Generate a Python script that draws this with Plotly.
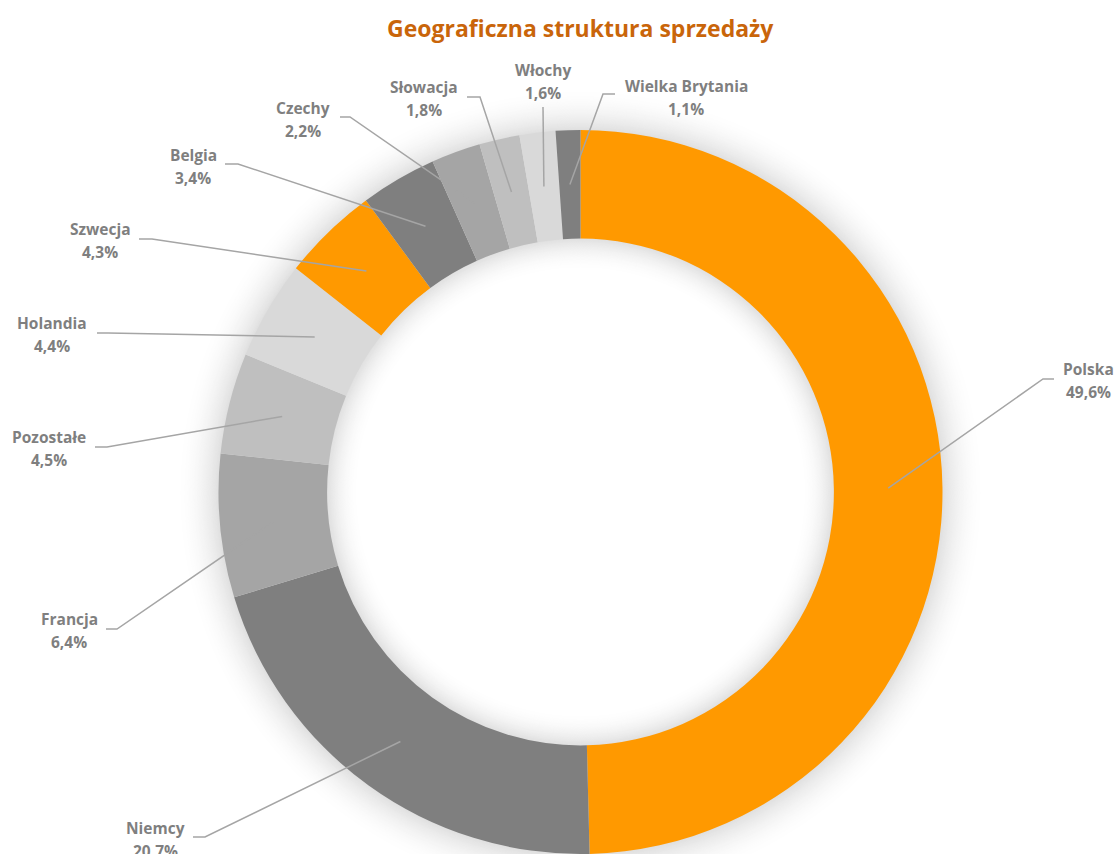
import math
import plotly.graph_objects as go

# ---------------- data ----------------
countries = ["Polska", "Niemcy", "Francja", "Pozostałe", "Holandia", "Szwecja",
             "Belgia", "Czechy", "Słowacja", "Włochy", "Wielka Brytania"]
shares = [49.6, 20.7, 6.4, 4.5, 4.4, 4.3, 3.4, 2.2, 1.8, 1.6, 1.1]
pct_labels = ["49,6%", "20,7%", "6,4%", "4,5%", "4,4%", "4,3%",
              "3,4%", "2,2%", "1,8%", "1,6%", "1,1%"]
title_text = "Geograficzna struktura sprzedaży"

# ---------------- style / layout ----------------
W, H = 1115, 854
CX, CY, R_OUT = 580.5, 492.0, 362.0
HOLE = 0.70
R_IN = R_OUT * HOLE
R_LINE = (R_OUT + R_IN) / 2

slice_colors = ["#FF9900", "#7F7F7F", "#A5A5A5", "#BFBFBF", "#D9D9D9", "#FF9900",
                "#7F7F7F", "#A5A5A5", "#BFBFBF", "#D9D9D9", "#7F7F7F"]
label_color = "#7F7F7F"
line_color = "#A5A5A5"
title_color = "#C9650A"
FONT = "Open Sans"
LABEL_SIZE = 15.5
TITLE_SIZE = 23

# label text centres (x, y of name line) and leader-line label-side points
label_pos = [(1088, 369), (155, 828), (69, 619), (49, 437), (52, 323), (100, 229),
             (193, 155), (303, 108), (424, 87), (543, 70), (686, 86)]
line_end = [(1054, 379), (193, 837), (106, 629), (95, 447), (97, 333), (139, 239),
            (225, 164), (340, 117), (467, 97), (543, 107), (615, 94)]
line_elbow = [(1043, 379), (205, 837), (117, 629), (107, 447), (108, 333), (152, 239),
              (238, 164), (350, 117), (480, 97), (543, 107), (603, 94)]
PCT_DY = 23

fig = go.Figure()

fig.add_trace(go.Pie(
    labels=countries,
    values=shares,
    sort=False,
    direction="clockwise",
    rotation=0,
    hole=HOLE,
    textinfo="none",
    marker=dict(colors=slice_colors, line=dict(width=0)),
    showlegend=False,
    domain=dict(x=[(CX - R_OUT) / W, (CX + R_OUT) / W],
                y=[(H - CY - R_OUT) / H, (H - CY + R_OUT) / H]),
))

shapes = []
# soft outer shadow
N_OUT = 44
for k in range(N_OUT, 0, -1):
    t = 1 - k / N_OUT
    g = int(round(255 - 32 * t ** 2))
    r = R_OUT + k
    shapes.append(dict(type="circle", xref="x", yref="y", layer="below",
                       x0=CX - r, x1=CX + r, y0=CY - r, y1=CY + r,
                       fillcolor=f"rgb({g},{g},{g})", line=dict(width=0)))
# soft inner shadow inside the hole
N_IN = 34
for k in range(0, N_IN + 1):
    t = 1 - k / N_IN
    g = int(round(255 - 32 * t ** 2))
    r = R_IN - k + 1
    shapes.append(dict(type="circle", xref="x", yref="y", layer="below",
                       x0=CX - r, x1=CX + r, y0=CY - r, y1=CY + r,
                       fillcolor=f"rgb({g},{g},{g})", line=dict(width=0)))

# leader lines from slice mid-angles
total = sum(shares)
cum = 0.0
annotations = []
for i, v in enumerate(shares):
    mid = (cum + v / 2) / total * 2 * math.pi
    cum += v
    px = CX + R_LINE * math.sin(mid)
    py = CY - R_LINE * math.cos(mid)
    ex, ey = line_end[i]
    bx, by = line_elbow[i]
    shapes.append(dict(type="path", xref="x", yref="y", layer="above",
                       path=f"M {ex},{ey} L {bx},{by} L {px:.1f},{py:.1f}",
                       line=dict(color=line_color, width=1.5)))
    lx, ly = label_pos[i]
    annotations.append(dict(x=lx, y=ly, xref="x", yref="y", text=f"<b>{countries[i]}</b>",
                            showarrow=False, xanchor="center", yanchor="middle",
                            font=dict(family=FONT, size=LABEL_SIZE, color=label_color)))
    annotations.append(dict(x=lx, y=ly + PCT_DY, xref="x", yref="y", text=f"<b>{pct_labels[i]}</b>",
                            showarrow=False, xanchor="center", yanchor="middle",
                            font=dict(family=FONT, size=LABEL_SIZE, color=label_color)))

annotations.append(dict(x=580, y=28, xref="x", yref="y", text=f"<b>{title_text}</b>",
                        showarrow=False, xanchor="center", yanchor="middle",
                        font=dict(family=FONT, size=TITLE_SIZE, color=title_color)))

fig.update_layout(
    width=W, height=H,
    margin=dict(l=0, r=0, t=0, b=0),
    paper_bgcolor="white", plot_bgcolor="rgba(0,0,0,0)",
    xaxis=dict(range=[0, W], visible=False, fixedrange=True, domain=[0, 1]),
    yaxis=dict(range=[H, 0], visible=False, fixedrange=True, domain=[0, 1]),
    shapes=shapes,
    annotations=annotations,
    showlegend=False,
)

fig.write_html("out.html",
               config={"displayModeBar": False},
               post_script="document.body.style.margin='0';document.body.style.overflow='hidden';")
